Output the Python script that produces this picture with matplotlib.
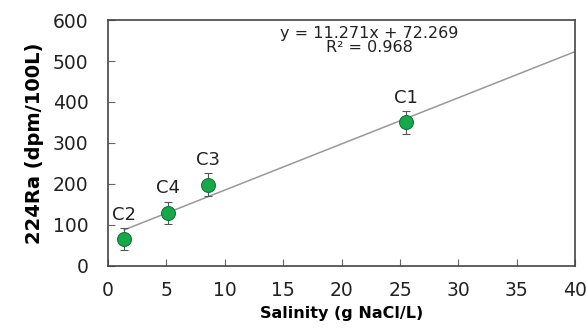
import matplotlib
matplotlib.use("Agg")
import matplotlib.pyplot as plt
import numpy as np

# data
sites = ["C1", "C2", "C3", "C4"]
salinity = [25.5, 1.4, 8.6, 5.1]
ra224 = [350, 65, 198, 130]
ra224_err = [27, 27, 28, 27]

slope, intercept = 11.271, 72.269
r2 = 0.968

fig = plt.figure(figsize=(5.87, 3.34), dpi=100)
ax = fig.add_axes([0.184, 0.204, 0.796, 0.736])

# trend line from lowest salinity to the right edge
xs = np.array([min(salinity), 40])
ax.plot(xs, slope * xs + intercept, color="#999999", lw=1.1, zorder=1)

ax.errorbar(salinity, ra224, yerr=ra224_err, fmt="o", ms=10,
            mfc="#16a84a", mec="#0e7a33", mew=0.8, ecolor="#555555",
            elinewidth=0.8, capsize=3, capthick=0.8, zorder=3)

for s, x, y, e in zip(sites, salinity, ra224, ra224_err):
    ax.annotate(s, (x, y + e), xytext=(0, 3), textcoords="offset points",
                ha="center", va="bottom", fontsize=13, color="#222222")

ax.text(22.4, 568, f"y = {slope}x + {intercept}", ha="center", va="center",
        fontsize=11.5, color="#222222")
ax.text(22.4, 532, f"R² = {r2}", ha="center", va="center",
        fontsize=11.5, color="#222222")

ax.set_xlim(0, 40)
ax.set_ylim(0, 600)
ax.set_xticks(range(0, 41, 5))
ax.set_yticks(range(0, 601, 100))
ax.tick_params(direction="in", length=5, width=0.8, color="#666666",
               labelsize=13.5, labelcolor="#222222")
ax.tick_params(axis="x", pad=11)
ax.tick_params(axis="y", pad=14)
for sp in ax.spines.values():
    sp.set_color("#444444")
    sp.set_linewidth(1.2)

ax.set_xlabel("Salinity (g NaCl/L)", fontsize=11.5, fontweight="bold", labelpad=4)
ax.set_ylabel("224Ra (dpm/100L)", fontsize=14, fontweight="bold", labelpad=6)

fig.savefig("out.png", dpi=100)
